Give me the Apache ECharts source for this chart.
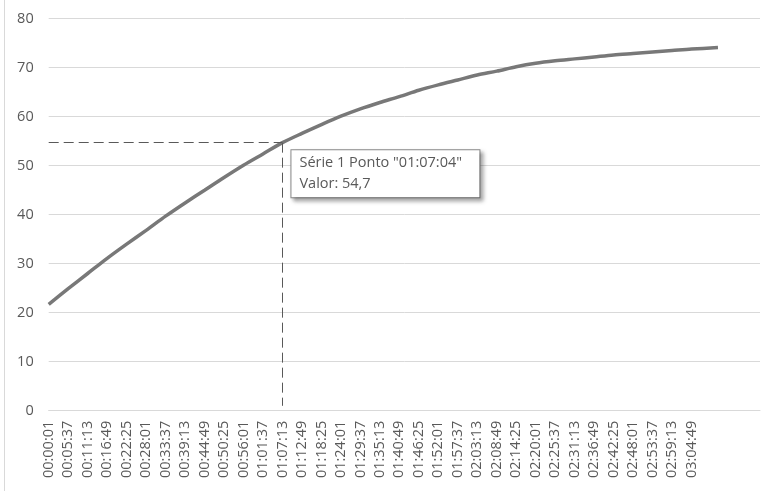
<!DOCTYPE html>
<html>
<head>
<meta charset="utf-8">
<script src="https://cdn.jsdelivr.net/npm/echarts@6/dist/echarts.min.js"></script>
<style>
  html, body { margin: 0; padding: 0; background: #fff; }
  #frame { position: absolute; left: 4px; top: 0; width: 1px; height: 491px; background: #d9d9d9; }
  #chart { position: absolute; left: 0; top: 0; width: 771px; height: 491px; }
</style>
</head>
<body>
<div id="frame"></div>
<div id="chart"></div>
<script>
// Tick labels on the category (time) axis
const timeLabels = [
  '00:00:01','00:05:37','00:11:13','00:16:49','00:22:25','00:28:01','00:33:37','00:39:13',
  '00:44:49','00:50:25','00:56:01','01:01:37','01:07:13','01:12:49','01:18:25','01:24:01',
  '01:29:37','01:35:13','01:40:49','01:46:25','01:52:01','01:57:37','02:03:13','02:08:49',
  '02:14:25','02:20:01','02:25:37','02:31:13','02:36:49','02:42:25','02:48:01','02:53:37',
  '02:59:13','03:04:49'
];
// Sample times (label times + end of series)
const sampleTimes = timeLabels.concat(['03:12:25']);
// Series 1 values at those times
const seriesValues = [
  21.7, 24.9, 28.0, 31.1, 34.0, 36.8, 39.7, 42.4,
  45.0, 47.6, 50.1, 52.4, 54.7, 56.6, 58.4, 60.1,
  61.6, 62.9, 64.1, 65.4, 66.5, 67.5, 68.5, 69.3,
  70.2, 70.9, 71.4, 71.8, 72.2, 72.6, 72.9, 73.2,
  73.5, 73.8, 74.1
];
const yTicks = [0, 10, 20, 30, 40, 50, 60, 70, 80];
// Highlighted point
const pointTime = '01:07:04';
const pointValue = 54.7;
const seriesName = 'Série 1';

function toSec(t) { const p = t.split(':').map(Number); return p[0] * 3600 + p[1] * 60 + p[2]; }
const t0 = toSec(timeLabels[0]);
const step = toSec(timeLabels[1]) - t0;
const data = sampleTimes.map((t, i) => [toSec(t) - t0, seriesValues[i]]);
const px = toSec(pointTime) - t0;

const FONT = 'Open Sans';
const TXT = '#595959';

const chart = echarts.init(document.getElementById('chart'), null, { renderer: 'canvas' });
chart.setOption({
  animation: false,
  grid: { left: 48.7, right: 11, top: 18.7, bottom: 80.3, containLabel: false },
  xAxis: {
    type: 'value',
    min: 0,
    max: 12269,
    interval: step,
    axisLine: { show: true, lineStyle: { color: '#d9d9d9', width: 1 } },
    axisTick: { show: false },
    splitLine: { show: false },
    axisLabel: {
      rotate: 90,
      margin: 10,
      fontFamily: FONT,
      fontSize: 14.5,
      color: TXT,
      showMaxLabel: false,
      formatter: function (v) {
        const i = Math.round(v / step);
        return timeLabels[i] || '';
      }
    }
  },
  yAxis: {
    type: 'value',
    min: yTicks[0],
    max: yTicks[yTicks.length - 1],
    interval: yTicks[1] - yTicks[0],
    axisLine: { show: false },
    axisTick: { show: false },
    splitLine: { lineStyle: { color: '#d9d9d9', width: 1 } },
    axisLabel: { margin: 15, fontFamily: FONT, fontSize: 14.5, color: TXT }
  },
  series: [{
    name: seriesName,
    type: 'line',
    data: data,
    showSymbol: false,
    smooth: 0.3,
    lineStyle: { color: '#787878', width: 3.5 },
    itemStyle: { color: '#787878' },
    silent: true,
    markLine: {
      silent: true,
      symbol: 'none',
      label: { show: false },
      lineStyle: { color: '#595959', width: 1, type: [10, 5] },
      emphasis: { disabled: true },
      data: [
        [{ coord: [0, pointValue] }, { coord: [px, pointValue] }],
        [{ coord: [px, pointValue] }, { coord: [px, 1] }]
      ]
    },
    markPoint: {
      silent: true,
      data: [{
        coord: [px, pointValue],
        symbol: 'circle',
        symbolSize: 1,
        itemStyle: { color: 'rgba(0,0,0,0)' },
        label: {
          show: true,
          position: [10, 8],
          align: 'left',
          verticalAlign: 'top',
          formatter: seriesName + ' Ponto "' + pointTime + '"\nValor: ' + String(pointValue).replace('.', ','),
          fontFamily: FONT,
          fontSize: 14.5,
          color: TXT,
          lineHeight: 21,
          backgroundColor: '#ffffff',
          borderColor: '#8c8c8c',
          borderWidth: 1,
          padding: [2, 8, 3, 8],
          width: 172,
          shadowColor: 'rgba(0,0,0,0.35)',
          shadowBlur: 4,
          shadowOffsetX: 3,
          shadowOffsetY: 3
        }
      }]
    }
  }]
});
</script>
</body>
</html>
